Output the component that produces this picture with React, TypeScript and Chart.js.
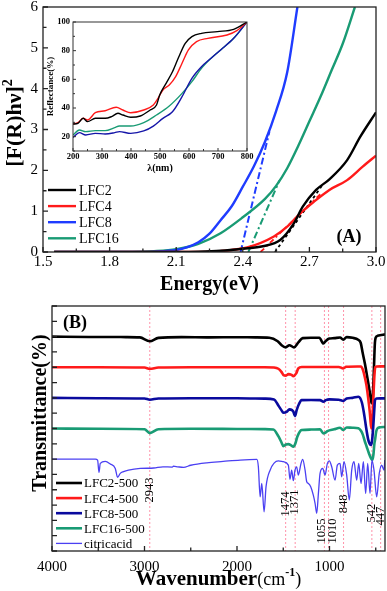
import React, { useEffect, useRef } from 'react';
import { Chart, registerables } from 'chart.js';

Chart.register(...registerables);

const SERIF = "'Liberation Serif', 'Times New Roman', Times, serif";
Chart.defaults.font.family = SERIF;
Chart.defaults.color = '#000';

// ---------- Panel (A): [F(R)hν]^2 vs energy ----------
const A_X_TICKS = [1.5, 1.65, 1.8, 1.95, 2.1, 2.25, 2.4, 2.55, 2.7, 2.85, 3.0];
const A_X_LABELS = [1.5, 1.8, 2.1, 2.4, 2.7, 3.0];
const A_Y_TICKS = [0, 0.5, 1, 1.5, 2, 2.5, 3, 3.5, 4, 4.5, 5, 5.5, 6];
const A_Y_LABELS = [0, 1, 2, 3, 4, 5, 6];

const E_LFC2 = [1.55, 2.0, 2.2, 2.3, 2.4, 2.49, 2.57, 2.63, 2.67, 2.73, 2.79, 2.87, 2.93, 3.0];
const F_LFC2 = [0, 0, 0.01, 0.03, 0.08, 0.14, 0.3, 0.7, 1.11, 1.52, 1.78, 2.25, 2.83, 3.42];
const E_LFC4 = [1.55, 2.1, 2.27, 2.35, 2.42, 2.54, 2.6, 2.66, 2.72, 2.79, 2.87, 2.94, 3.0];
const F_LFC4 = [0, 0, 0.01, 0.05, 0.11, 0.38, 0.62, 0.95, 1.23, 1.52, 1.76, 2.09, 2.36];
const E_LFC8 = [1.55, 1.9, 2.0, 2.1, 2.15, 2.2, 2.25, 2.3, 2.35, 2.4, 2.45, 2.5, 2.55, 2.6, 2.646];
const F_LFC8 = [0, 0, 0.01, 0.05, 0.12, 0.24, 0.45, 0.78, 1.12, 1.6, 2.1, 2.7, 3.45, 4.4, 6.0];
const E_LFC16 = [1.55, 1.9, 2.0, 2.1, 2.2, 2.3, 2.4, 2.5, 2.55, 2.6, 2.65, 2.7, 2.75, 2.8, 2.85, 2.905];
const F_LFC16 = [0, 0, 0.02, 0.07, 0.2, 0.46, 0.85, 1.3, 1.62, 2.05, 2.6, 3.2, 3.8, 4.45, 5.1, 6.0];

// tangent (band-gap extrapolation) lines
const TAN_E_LFC2 = [2.545, 2.76];
const TAN_F_LFC2 = [0, 1.65];
const TAN_E_LFC4 = [2.48, 2.75];
const TAN_F_LFC4 = [0, 1.42];
const TAN_E_LFC8 = [2.39, 2.52];
const TAN_F_LFC8 = [0, 2.95];
const TAN_E_LFC16 = [2.425, 2.565];
const TAN_F_LFC16 = [0, 1.75];

// ---------- Inset: reflectance ----------
const IN_X_TICKS = [200, 250, 300, 350, 400, 450, 500, 550, 600, 650, 700, 750, 800];
const IN_X_LABELS = [200, 300, 400, 500, 600, 700, 800];
const IN_Y_TICKS = [10, 20, 30, 40, 50, 60, 70, 80, 90, 100];
const IN_Y_LABELS = [20, 40, 60, 80, 100];

const L_LFC2 = [200, 217, 235, 250, 277, 311, 333, 355, 372, 399, 432, 466, 488, 499, 521, 543, 565, 587, 610, 643, 698, 754, 800];
const R_LFC2 = [28.8, 29.3, 32.8, 30.5, 32.8, 32.8, 34.0, 36.3, 35.1, 33.5, 34.4, 38.6, 42.1, 49.1, 57.2, 65.3, 75.8, 85.1, 89.8, 92.1, 93.3, 94.9, 100];
const L_LFC4 = [200, 217, 235, 250, 277, 311, 349, 372, 399, 444, 477, 493, 510, 532, 554, 576, 598, 626, 665, 731, 765, 800];
const R_LFC4 = [28.8, 29.8, 32.8, 31.6, 36.7, 38.1, 40.5, 38.6, 36.7, 38.6, 42.1, 46.7, 52.6, 56.0, 61.9, 71.2, 80.5, 86.3, 88.6, 90.9, 94, 100];
const L_LFC8 = [200, 222, 244, 277, 311, 344, 360, 399, 444, 477, 510, 543, 576, 610, 643, 676, 709, 754, 800];
const R_LFC8 = [19.5, 22.8, 21.2, 22.3, 21.9, 22.8, 23.5, 22.3, 24.0, 27.4, 32.8, 37.4, 47.9, 60.7, 68.8, 74.7, 80.5, 88.6, 100];
const L_LFC16 = [200, 222, 244, 277, 311, 344, 360, 399, 444, 488, 532, 576, 610, 643, 676, 709, 754, 800];
const R_LFC16 = [21.2, 24.7, 23.5, 24.2, 24.2, 26.3, 27.4, 27.4, 29.8, 35.1, 41.4, 50.2, 58.4, 67.7, 74.7, 80.5, 88.6, 100];

// ---------- Panel (B): FTIR ----------
const B_X_TICKS = [4000, 3500, 3000, 2500, 2000, 1500, 1000, 500];
const B_X_LABELS = [4000, 3000, 2000, 1000];
const B_Y_TICKS = [0, 1, 2, 3, 4, 5, 6, 7, 8, 9, 10, 11, 12, 13, 14, 15, 16];

const W_LFC2 = [4000, 3600, 3200, 3050, 2943, 2850, 2600, 2300, 2000, 1800, 1650, 1560, 1520, 1474, 1434, 1383, 1337, 1290, 1200, 1110, 1066, 1040, 1002, 950, 886, 851, 814, 750, 690, 663, 640, 616, 590, 565, 545, 535, 522, 510, 500, 480, 440, 400];
const T_LFC2 = [14.0, 13.98, 13.97, 13.95, 13.7, 13.92, 13.97, 13.95, 13.96, 13.95, 13.93, 13.7, 13.45, 13.3, 13.44, 13.3, 13.62, 13.9, 13.93, 13.93, 13.55, 13.72, 13.87, 13.9, 13.94, 13.8, 13.97, 13.92, 13.8, 13.6, 12.9, 12.2, 11.3, 10.4, 9.65, 9.8, 11.5, 13.5, 13.95, 14.05, 14.1, 14.15];
const W_LFC4 = [4000, 3500, 3000, 2943, 2850, 2500, 2000, 1700, 1600, 1553, 1520, 1499, 1470, 1445, 1410, 1391, 1360, 1337, 1300, 1200, 1000, 900, 851, 820, 700, 660, 640, 620, 600, 580, 565, 552, 545, 538, 527, 515, 505, 490, 450, 400];
const T_LFC4 = [12.0, 12.0, 11.98, 11.9, 11.98, 12.0, 12.0, 12.0, 11.98, 11.9, 11.7, 11.5, 11.45, 11.55, 11.5, 11.42, 11.6, 11.93, 12.02, 12.02, 12.02, 12.02, 11.92, 12.03, 12.05, 12.05, 11.85, 11.4, 10.8, 9.9, 9.1, 8.2, 8.0, 8.4, 9.85, 11.4, 12.0, 12.05, 12.06, 12.06];
const W_LFC8 = [4000, 3500, 3000, 2943, 2850, 2500, 2000, 1700, 1600, 1553, 1520, 1499, 1460, 1434, 1405, 1391, 1373, 1355, 1330, 1301, 1200, 1102, 1066, 1040, 1000, 900, 851, 814, 750, 688, 670, 650, 630, 616, 600, 580, 565, 551, 540, 527, 515, 508, 490, 450, 400];
const T_LFC8 = [10.0, 9.98, 9.96, 9.88, 9.96, 9.98, 9.98, 9.95, 9.9, 9.5, 9.2, 9.03, 9.1, 9.25, 9.2, 9.1, 8.81, 9.2, 9.6, 9.85, 9.86, 9.85, 9.75, 9.85, 9.9, 9.88, 9.8, 9.96, 10.0, 10.07, 10.0, 9.7, 9.1, 8.55, 7.9, 7.24, 7.0, 6.92, 7.2, 8.12, 9.3, 9.85, 9.96, 9.97, 9.97];
const W_LFC16 = [4000, 3500, 3000, 2943, 2850, 2500, 2000, 1700, 1607, 1553, 1520, 1499, 1470, 1445, 1415, 1391, 1370, 1348, 1320, 1301, 1200, 1102, 1066, 1040, 1023, 950, 886, 851, 814, 750, 688, 660, 640, 620, 598, 575, 551, 537, 525, 515, 508, 495, 483, 450, 400];
const T_LFC16 = [8.0, 7.98, 7.95, 7.7, 7.95, 7.98, 7.97, 7.96, 7.94, 7.5, 7.1, 6.85, 6.95, 6.98, 6.9, 6.81, 7.0, 7.46, 7.8, 7.9, 7.93, 7.94, 7.68, 7.75, 7.83, 7.95, 8.05, 7.9, 8.07, 8.05, 8.02, 7.85, 7.6, 7.2, 6.81, 6.4, 6.05, 5.95, 6.3, 7.0, 7.24, 7.8, 8.0, 8.08, 8.1];
const W_CITRIC = [4000, 3532, 3507, 3492, 3478, 3424, 3370, 3316, 3291, 3262, 3227, 3173, 3046, 2900, 2800, 2700, 2687, 2640, 2579, 2500, 2326, 2150, 1966, 1786, 1769, 1750, 1732, 1707, 1686, 1642, 1553, 1499, 1445, 1427, 1409, 1391, 1373, 1355, 1337, 1308, 1290, 1264, 1246, 1228, 1203, 1175, 1156, 1138, 1120, 1102, 1073, 1048, 1023, 1002, 976, 940, 915, 886, 868, 843, 814, 786, 760, 735, 706, 684, 659, 634, 609, 587, 562, 541, 519, 490, 462, 436, 411, 402];
const T_CITRIC = [6.0, 6.0, 5.94, 5.13, 5.72, 5.85, 5.68, 5.39, 4.81, 5.07, 5.18, 5.28, 5.39, 5.42, 5.5, 5.48, 5.54, 5.5, 5.46, 5.6, 5.76, 5.85, 5.94, 5.98, 5.5, 3.54, 4.41, 2.56, 4.2, 5.28, 5.89, 5.83, 5.61, 4.68, 5.28, 4.59, 5.28, 5.5, 4.96, 5.72, 5.98, 5.28, 4.52, 4.41, 4.2, 3.65, 3.11, 2.46, 3.76, 5.07, 5.39, 4.96, 5.72, 5.89, 5.5, 4.63, 5.61, 5.72, 4.85, 5.83, 4.96, 3.33, 5.28, 5.83, 4.63, 5.72, 4.41, 5.83, 3.76, 5.72, 3.76, 5.94, 5.28, 3.54, 5.07, 5.61, 5.28, 5.94];

const PEAK_WN = [2943, 1474, 1371, 1055, 1010, 848, 542, 447];
const PEAK_LABELS = ['2943', '1474', '1371', '1055', '1010', '848', '542', '447'];
const PEAK_LABEL_Y = [3.98, 3.07, 3.2, 1.3, 1.3, 3.07, 2.48, 2.28];

// ---------- colours ----------
const BLACK = '#000000';
const RED = '#ff1a1a';
const BLUE_A = '#1f3cff';
const GREEN = '#199b74';
const NAVY = '#0a0a9e';
const INSET_BLUE = '#1515a8';
const CITRIC = '#4b40f2';

const zip = (xs: number[], ys: number[]) => xs.map((x, i) => ({ x, y: ys[i] }));

type Seg = { t: string; f: string; dy?: number };
function drawRich(ctx: CanvasRenderingContext2D, segs: Seg[], x: number, y: number, rot = 0) {
  ctx.save();
  ctx.translate(x, y);
  ctx.rotate(rot);
  ctx.textBaseline = 'alphabetic';
  ctx.textAlign = 'left';
  ctx.fillStyle = '#000';
  const w = segs.map((s) => {
    ctx.font = s.f;
    return ctx.measureText(s.t).width;
  });
  let cx = -w.reduce((p, c) => p + c, 0) / 2;
  segs.forEach((s, i) => {
    ctx.font = s.f;
    ctx.fillText(s.t, cx, s.dy || 0);
    cx += w[i];
  });
  ctx.restore();
}

function axis(o: {
  min: number; max: number; ticks: number[]; labels: number[]; fmt: (v: number) => string;
  size: number; horizontal: boolean; fontSize: number; bold?: boolean; pad: number; reverse?: boolean;
}) {
  return {
    type: 'linear',
    min: o.min,
    max: o.max,
    reverse: !!o.reverse,
    afterBuildTicks: (s: any) => {
      s.ticks = o.ticks.map((v) => ({ value: v }));
    },
    afterFit: (s: any) => {
      if (o.horizontal) s.height = o.size;
      else s.width = o.size;
      s.paddingLeft = 0;
      s.paddingRight = 0;
      s.paddingTop = 0;
      s.paddingBottom = 0;
    },
    grid: { display: false, drawTicks: false },
    border: { display: false },
    ticks: {
      autoSkip: false,
      maxRotation: 0,
      minRotation: 0,
      padding: o.pad,
      color: '#000',
      font: { size: o.fontSize, weight: o.bold ? 'bold' : 'normal' },
      callback: (v: any) => (o.labels.includes(v) ? o.fmt(v) : ''),
    },
  };
}

const frameTicks = (o: { xMajor: number[]; yMajor: number[]; major: number; minor: number; width: number; color: string }) => ({
  id: 'frameTicks',
  afterDatasetsDraw(chart: any) {
    const { ctx, chartArea: a, scales } = chart;
    const xs = scales.x;
    const ys = scales.y;
    ctx.save();
    ctx.strokeStyle = o.color;
    ctx.lineWidth = o.width;
    ctx.setLineDash([]);
    ctx.strokeRect(a.left, a.top, a.right - a.left, a.bottom - a.top);
    ctx.beginPath();
    xs.ticks.forEach((t: any) => {
      const p = xs.getPixelForValue(t.value);
      const L = o.xMajor.includes(t.value) ? o.major : o.minor;
      ctx.moveTo(p, a.bottom);
      ctx.lineTo(p, a.bottom - L);
    });
    ys.ticks.forEach((t: any) => {
      const p = ys.getPixelForValue(t.value);
      const L = o.yMajor.includes(t.value) ? o.major : o.minor;
      ctx.moveTo(a.left, p);
      ctx.lineTo(a.left + L, p);
    });
    ctx.stroke();
    ctx.restore();
  },
});

const legendPlugin = (o: { x0: number; x1: number; tx: number; y0: number; dy: number; font: string }) => ({
  id: 'customLegend',
  afterDraw(chart: any) {
    const ctx: CanvasRenderingContext2D = chart.ctx;
    ctx.save();
    let row = 0;
    chart.data.datasets.forEach((ds: any) => {
      if (!ds.label) return;
      const y = o.y0 + row * o.dy;
      ctx.strokeStyle = ds.borderColor;
      ctx.lineWidth = ds.borderWidth;
      ctx.setLineDash([]);
      ctx.beginPath();
      ctx.moveTo(o.x0, y);
      ctx.lineTo(o.x1, y);
      ctx.stroke();
      ctx.fillStyle = '#000';
      ctx.font = o.font;
      ctx.textBaseline = 'middle';
      ctx.textAlign = 'left';
      ctx.fillText(ds.label, o.tx, y + 1);
      row++;
    });
    ctx.restore();
  },
});

const line = (label: string, data: any[], color: string, width: number, extra: any = {}) => ({
  label,
  data,
  borderColor: color,
  backgroundColor: color,
  borderWidth: width,
  pointRadius: 0,
  fill: false,
  tension: 0.4,
  cubicInterpolationMode: 'monotone',
  ...extra,
});

function mainConfig(): any {
  const dashDot = [7, 3, 2, 3];
  return {
    type: 'line',
    data: {
      datasets: [
        line('LFC2', zip(E_LFC2, F_LFC2), BLACK, 2.4),
        line('LFC4', zip(E_LFC4, F_LFC4), RED, 2.4),
        line('LFC8', zip(E_LFC8, F_LFC8), BLUE_A, 2.4),
        line('LFC16', zip(E_LFC16, F_LFC16), GREEN, 2.4),
        line('', zip(TAN_E_LFC2, TAN_F_LFC2), BLACK, 1.8, { borderDash: [3, 3], tension: 0 }),
        line('', zip(TAN_E_LFC4, TAN_F_LFC4), RED, 1.8, { borderDash: [5, 3, 2, 3], tension: 0 }),
        line('', zip(TAN_E_LFC8, TAN_F_LFC8), BLUE_A, 2, { borderDash: dashDot, tension: 0 }),
        line('', zip(TAN_E_LFC16, TAN_F_LFC16), GREEN, 2, { borderDash: dashDot, tension: 0 }),
      ],
    },
    options: {
      animation: false,
      responsive: false,
      layout: { padding: { top: 7, right: 11, bottom: 309, left: 0 } },
      scales: {
        x: axis({ min: 1.5, max: 3.0, ticks: A_X_TICKS, labels: A_X_LABELS, fmt: (v) => v.toFixed(1), size: 30, horizontal: true, fontSize: 15, pad: 1 }),
        y: axis({ min: 0, max: 6, ticks: A_Y_TICKS, labels: A_Y_LABELS, fmt: (v) => String(v), size: 43, horizontal: false, fontSize: 15, pad: 5 }),
      },
      plugins: { legend: { display: false }, tooltip: { enabled: false } },
    },
    plugins: [
      frameTicks({ xMajor: A_X_LABELS, yMajor: A_Y_LABELS, major: 5, minor: 3.5, width: 1.3, color: '#222' }),
      legendPlugin({ x0: 48, x1: 76, tx: 79, y0: 190, dy: 16.1, font: `14px ${SERIF}` }),
      {
        id: 'decorA',
        afterDraw(chart: any) {
          const ctx = chart.ctx;
          drawRich(ctx, [{ t: '[F(R)hν]', f: `bold 22px ${SERIF}` }, { t: '2', f: `bold 14px ${SERIF}`, dy: -9 }], 21, 123, -Math.PI / 2);
          drawRich(ctx, [{ t: 'Energy(eV)', f: `bold 20px ${SERIF}` }], (chart.chartArea.left + chart.chartArea.right) / 2, 290);
          drawRich(ctx, [{ t: '(A)', f: `bold 18px ${SERIF}` }], 349, 242);
        },
      },
    ],
  };
}

function insetConfig(): any {
  return {
    type: 'line',
    data: {
      datasets: [
        line('LFC2', zip(L_LFC2, R_LFC2), BLACK, 1.4),
        line('LFC4', zip(L_LFC4, R_LFC4), RED, 1.4),
        line('LFC8', zip(L_LFC8, R_LFC8), INSET_BLUE, 1.4),
        line('LFC16', zip(L_LFC16, R_LFC16), GREEN, 1.4),
      ],
    },
    options: {
      animation: false,
      responsive: false,
      layout: { padding: { top: 22, right: 140, bottom: 420, left: 0 } },
      scales: {
        x: axis({ min: 200, max: 800, ticks: IN_X_TICKS, labels: IN_X_LABELS, fmt: (v) => String(v), size: 20, horizontal: true, fontSize: 8.5, bold: true, pad: 1 }),
        y: axis({ min: 10, max: 100, ticks: IN_Y_TICKS, labels: IN_Y_LABELS, fmt: (v) => String(v), size: 73, horizontal: false, fontSize: 8.5, bold: true, pad: 3 }),
      },
      plugins: { legend: { display: false }, tooltip: { enabled: false } },
    },
    plugins: [
      frameTicks({ xMajor: IN_X_LABELS, yMajor: IN_Y_LABELS, major: 3, minor: 2, width: 1, color: '#333' }),
      {
        id: 'decorInset',
        afterDraw(chart: any) {
          const ctx = chart.ctx;
          const a = chart.chartArea;
          drawRich(ctx, [{ t: 'Reflectance(%)', f: `bold 9px ${SERIF}` }], 53, (a.top + a.bottom) / 2, -Math.PI / 2);
          drawRich(ctx, [{ t: 'λ(nm)', f: `bold 10px ${SERIF}` }], (a.left + a.right) / 2, 171);
        },
      },
    ],
  };
}

function bottomConfig(): any {
  const labelDx: Record<number, number> = { 1055: -3, 1010: 4 };
  return {
    type: 'line',
    data: {
      datasets: [
        line('LFC2-500', zip(W_LFC2, T_LFC2), BLACK, 2.6, { order: 5, tension: 0.3 }),
        line('LFC4-500', zip(W_LFC4, T_LFC4), RED, 2.6, { order: 4, tension: 0.3 }),
        line('LFC8-500', zip(W_LFC8, T_LFC8), NAVY, 2.6, { order: 3, tension: 0.3 }),
        line('LFC16-500', zip(W_LFC16, T_LFC16), GREEN, 2.6, { order: 2, tension: 0.3 }),
        line('citricacid', zip(W_CITRIC, T_CITRIC), CITRIC, 1.3, { order: 1, tension: 0.2 }),
      ],
    },
    options: {
      animation: false,
      responsive: false,
      layout: { padding: { top: 306, right: 2, bottom: 0, left: 0 } },
      scales: {
        x: axis({ min: 400, max: 4000, reverse: true, ticks: B_X_TICKS, labels: B_X_LABELS, fmt: (v) => String(v), size: 40, horizontal: true, fontSize: 15, pad: 7 }),
        y: axis({ min: 0, max: 16, ticks: B_Y_TICKS, labels: [], fmt: () => '', size: 52, horizontal: false, fontSize: 10, pad: 2 }),
      },
      plugins: { legend: { display: false }, tooltip: { enabled: false } },
    },
    plugins: [
      {
        id: 'peakLines',
        beforeDatasetsDraw(chart: any) {
          const { ctx, chartArea: a, scales } = chart;
          ctx.save();
          ctx.strokeStyle = 'rgba(255,110,140,0.75)';
          ctx.lineWidth = 1;
          ctx.setLineDash([2, 2]);
          ctx.beginPath();
          PEAK_WN.forEach((w) => {
            const p = scales.x.getPixelForValue(w);
            ctx.moveTo(p, a.top);
            ctx.lineTo(p, a.bottom);
          });
          ctx.stroke();
          ctx.restore();
        },
        afterDatasetsDraw(chart: any) {
          const { ctx, scales } = chart;
          ctx.save();
          ctx.fillStyle = '#000';
          ctx.font = `12.5px ${SERIF}`;
          ctx.textAlign = 'center';
          ctx.textBaseline = 'middle';
          PEAK_WN.forEach((w, i) => {
            const px = scales.x.getPixelForValue(w) + (labelDx[w] || 0);
            const py = scales.y.getPixelForValue(PEAK_LABEL_Y[i]);
            ctx.save();
            ctx.translate(px, py);
            ctx.rotate(-Math.PI / 2);
            ctx.fillText(PEAK_LABELS[i], 0, 0);
            ctx.restore();
          });
          ctx.restore();
        },
      },
      frameTicks({ xMajor: B_X_LABELS, yMajor: B_Y_TICKS, major: 5, minor: 3.5, width: 1.3, color: '#222' }),
      legendPlugin({ x0: 56, x1: 82, tx: 84, y0: 483, dy: 15.1, font: `13px ${SERIF}` }),
      {
        id: 'decorB',
        afterDraw(chart: any) {
          const ctx = chart.ctx;
          const a = chart.chartArea;
          drawRich(ctx, [{ t: 'Transmittance(%)', f: `bold 20px ${SERIF}` }], 46, 413, -Math.PI / 2);
          drawRich(
            ctx,
            [
              { t: 'Wavenumber', f: `bold 21px ${SERIF}` },
              { t: '(cm', f: `18px ${SERIF}` },
              { t: '-1', f: `bold 12px ${SERIF}`, dy: -9 },
              { t: ')', f: `18px ${SERIF}` },
            ],
            (a.left + a.right) / 2,
            585,
          );
          drawRich(ctx, [{ t: '(B)', f: `bold 18px ${SERIF}` }], 75, 328);
        },
      },
    ],
  };
}

export default function App() {
  const aRef = useRef<HTMLCanvasElement>(null);
  const bRef = useRef<HTMLCanvasElement>(null);
  const inRef = useRef<HTMLCanvasElement>(null);

  useEffect(() => {
    const charts = [
      new Chart(aRef.current as HTMLCanvasElement, mainConfig()),
      new Chart(bRef.current as HTMLCanvasElement, bottomConfig()),
      new Chart(inRef.current as HTMLCanvasElement, insetConfig()),
    ];
    return () => charts.forEach((c) => c.destroy());
  }, []);

  const cs: React.CSSProperties = { position: 'absolute', left: 0, top: 0, width: 387, height: 591 };
  return (
    <div style={{ position: 'fixed', left: 0, top: 0, width: 387, height: 591, background: '#fff' }}>
      <canvas ref={aRef} width={387} height={591} style={cs} />
      <canvas ref={bRef} width={387} height={591} style={cs} />
      <canvas ref={inRef} width={387} height={591} style={cs} />
    </div>
  );
}
